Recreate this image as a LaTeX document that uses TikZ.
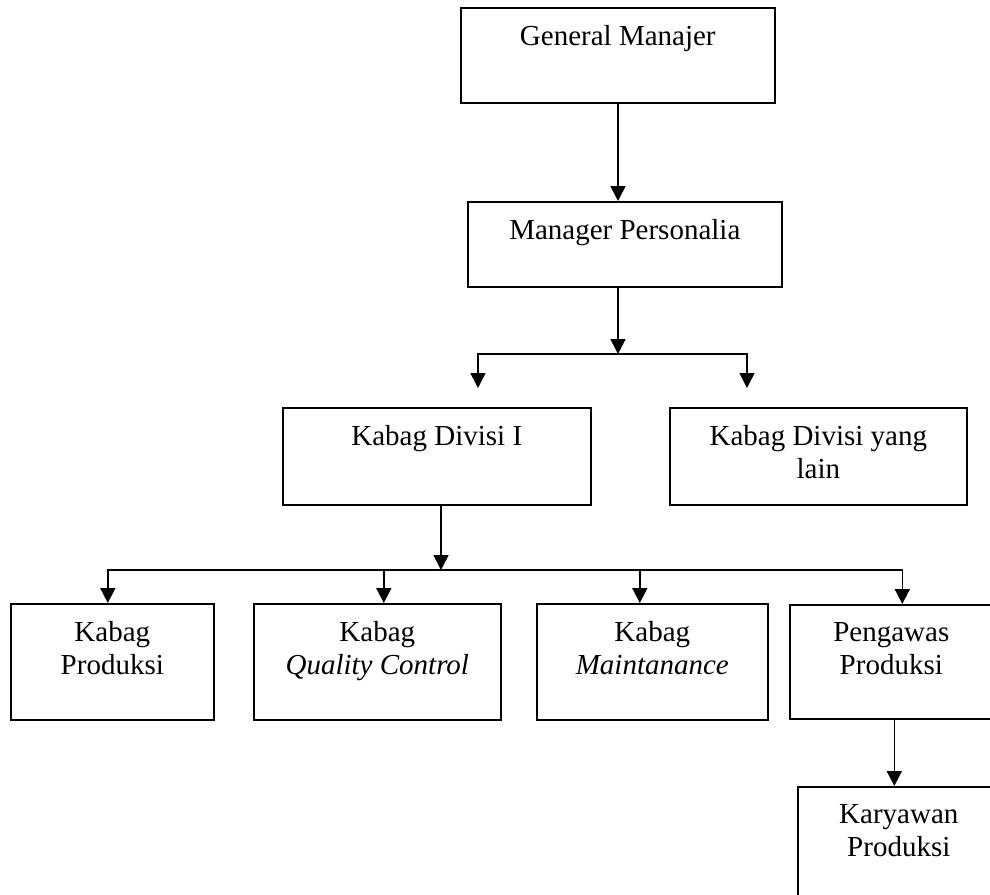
\documentclass[tikz,border=0pt]{standalone}
\usepackage{fontspec}
\setmainfont{Liberation Serif}
\usetikzlibrary{arrows.meta}

\begin{document}
\begin{tikzpicture}[%
        % one unit is one pixel of the page, y runs downwards
        x=1pt,y=-1pt,
        % boxes are placed by their top left corner
        box/.style={draw,line width=1.6pt,anchor=north west,inner sep=0pt},
        % text sits at the top of its box
        txt/.style={anchor=north,yshift=-18pt,inner sep=0pt,align=center,
            font=\fontsize{29pt}{33.5pt}\selectfont},
        arr/.style={line width=1.6pt,-{Triangle[width=15pt,length=15pt]}}
        ]

        \useasboundingbox (0,0) rectangle (990,894);

        % top of the chart
        \node[box,minimum width=314pt,minimum height=95pt,
            label={[txt]north:General Manajer}] (gm) at (460,7) {};
        \node[box,minimum width=314pt,minimum height=85pt,
            label={[txt]north:Manager Personalia}] (mp) at (467,201) {};

        % divisions
        \node[box,minimum width=308pt,minimum height=97pt,
            label={[txt]north:Kabag Divisi I}] (kd1) at (282,407) {};
        \node[box,minimum width=297pt,minimum height=97pt,
            label={[txt]north:Kabag Divisi yang\\lain}] (kdl) at (669,407) {};

        % sections of division I
        \node[box,minimum width=203pt,minimum height=116pt,
            label={[txt]north:Kabag\\Produksi}] (kp) at (10,603) {};
        \node[box,minimum width=247pt,minimum height=116pt,
            label={[txt]north:Kabag\\\textit{Quality Control}}] (kqc) at (253,603) {};
        \node[box,minimum width=231pt,minimum height=116pt,
            label={[txt]north:Kabag\\\textit{Maintanance}}] (km) at (536,603) {};
        \node[box,minimum width=203pt,minimum height=114pt,
            label={[txt]north:Pengawas\\Produksi}] (pp) at (789,604) {};
        \node[box,minimum width=202pt,minimum height=116pt,
            label={[txt]north:Karyawan\\Produksi}] (kk) at (797,786) {};

        \coordinate (j1) at (618,354);  % branch below manager
        \coordinate (e1) at (478,388);  % loose end over division I
        \coordinate (e2) at (747,388);  % loose end over other division
        \coordinate (j2) at (441,570);  % branch below division I

        % draw connectors
        \draw[arr] (gm.south -| j1) -- (mp.north -| j1);
        \draw[arr] (mp.south -| j1) -- (j1);
        \draw[arr] (j1) -| (e1);
        \draw[arr] (j1) -| (e2);

        \draw[arr] (kd1.south -| j2) -- (j2);
        \draw[arr] (j2) -| ([xshift=-4.5pt]kp.north);
        \draw[arr] (j2) -| ([xshift=11pt]pp.north);
        \draw[arr] ([xshift=6.5pt]kqc.north |- j2) -- ([xshift=6.5pt]kqc.north);
        \draw[arr] ([xshift=-12.5pt]km.north |- j2) -- ([xshift=-12.5pt]km.north);

        \draw[arr] ([xshift=3pt]pp.south) -- ([xshift=3pt]pp.south |- kk.north);

    \end{tikzpicture}
\end{document}
